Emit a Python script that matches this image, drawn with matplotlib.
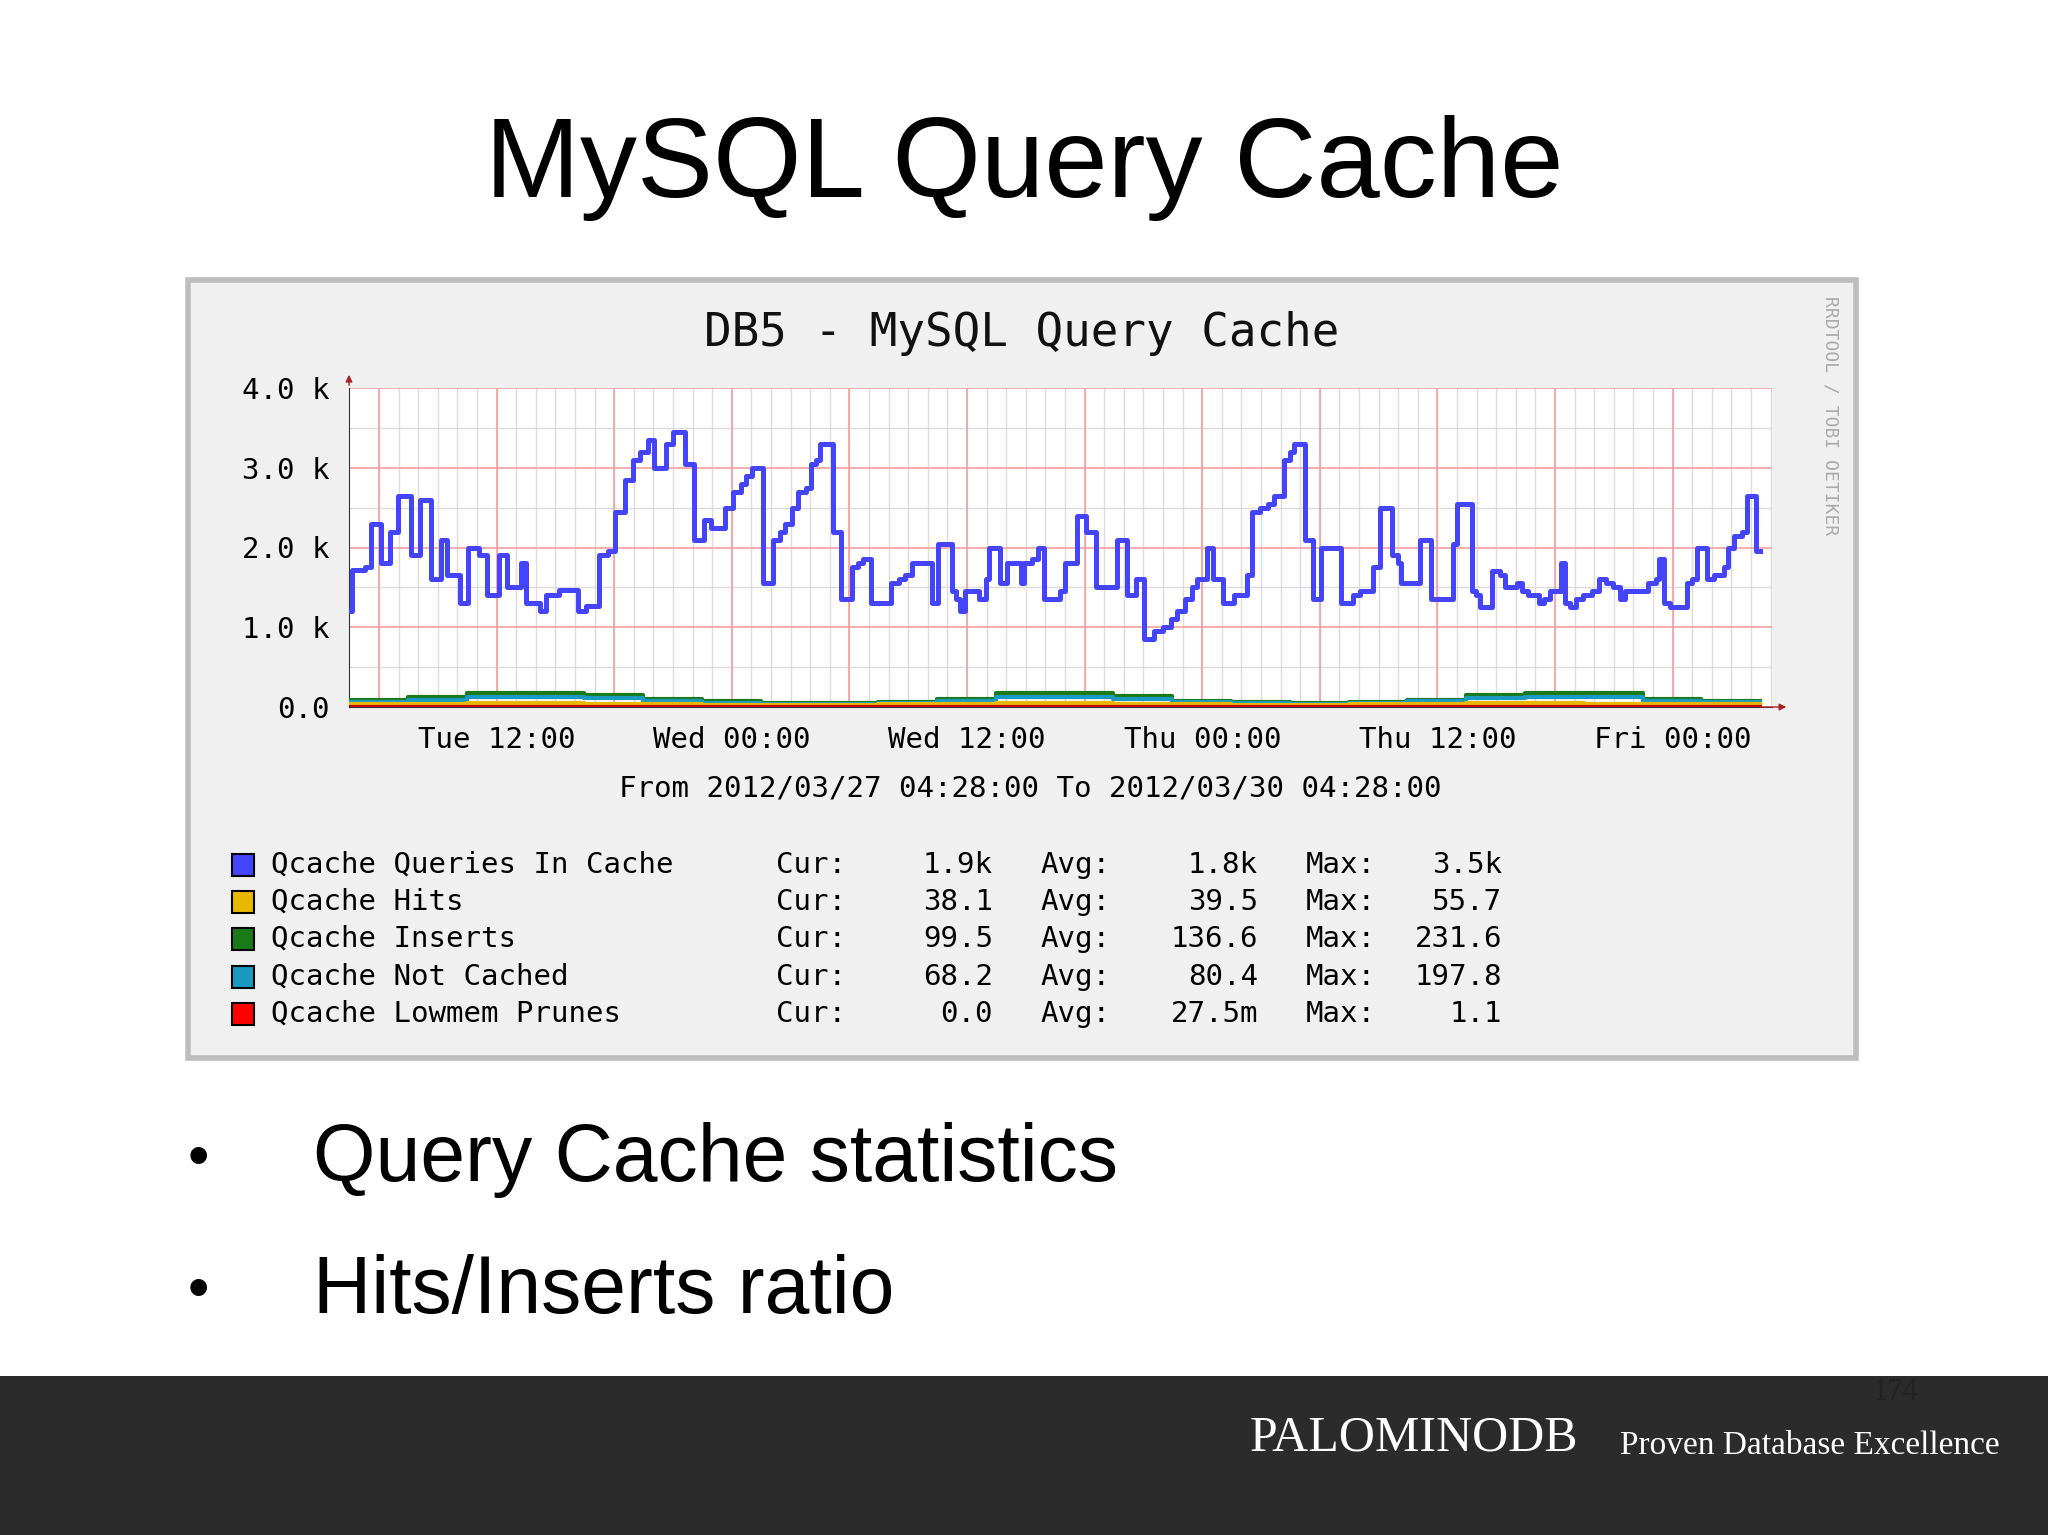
import numpy as np
import matplotlib
matplotlib.use("Agg")
import matplotlib.pyplot as plt
from matplotlib.patches import Rectangle

# ---- data (hours since 2012/03/27 04:28, value in queries) ----
q_hours = [0, 0.16, 0.81, 1.13, 1.61, 2.10, 2.52, 3.16, 3.61, 4.19, 4.68, 5.0, 5.65, 6.06, 6.61, 7.03, 7.65, 8.06, 8.77, 9.03,
           9.74, 10.06, 10.71, 11.68, 12.10, 12.74, 13.23, 13.55, 14.10, 14.48, 14.84, 15.23, 15.55, 16.19, 16.55, 17.16, 17.58,
           18.13, 18.48, 19.19, 19.61, 20.0, 20.26, 20.58, 21.13, 21.61, 22.0, 22.26, 22.58, 22.9, 23.32, 23.55, 23.81, 24.03,
           24.68, 25.10, 25.65, 25.97, 26.23, 26.61, 27.65, 28.06, 28.39, 28.71, 29.74, 30.06, 30.74, 30.97, 31.19, 31.45,
           32.16, 32.48, 32.65, 33.23, 33.55, 34.26, 34.45, 34.84, 35.16, 35.48, 36.29, 36.55, 37.16, 37.58, 38.13, 39.19,
           39.68, 40.16, 40.58, 41.08, 41.51, 41.94, 42.22, 42.65, 42.99, 43.27, 43.79, 44.07, 44.58, 45.15, 45.83, 46.06,
           46.49, 46.91, 47.2, 47.71, 48.0, 48.19, 48.76, 49.19, 49.61, 50.61, 51.24, 51.6, 52.26, 52.6, 53.23, 53.51, 53.68,
           54.65, 55.22, 56.3, 56.52, 57.29, 57.49, 57.72, 58.29, 58.71, 59.0, 59.57, 59.85, 60.13, 60.7, 60.99, 61.27, 61.84,
           62.04, 62.27, 62.61, 62.98, 63.41, 63.75, 64.12, 64.49, 64.83, 65.11, 66.25, 66.68, 66.82, 67.1, 67.39, 68.24,
           68.52, 68.75, 69.29, 69.66, 70.17, 70.37, 70.66, 71.08, 71.31, 71.79, 72.0]
q_vals_k = [1.2, 1.72, 1.75, 2.3, 1.8, 2.2, 2.65, 1.9, 2.6, 1.6, 2.1, 1.65, 1.3, 2.0, 1.9, 1.4, 1.9, 1.5, 1.8, 1.3,
            1.2, 1.4, 1.47, 1.2, 1.27, 1.9, 1.95, 2.45, 2.85, 3.1, 3.2, 3.35, 3.0, 3.3, 3.45, 3.05, 2.1,
            2.35, 2.25, 2.5, 2.7, 2.8, 2.9, 3.0, 1.55, 2.1, 2.2, 2.3, 2.5, 2.7, 2.75, 3.05, 3.1, 3.3,
            2.2, 1.35, 1.75, 1.8, 1.85, 1.3, 1.55, 1.6, 1.65, 1.8, 1.3, 2.05, 1.45, 1.35, 1.2, 1.45,
            1.35, 1.6, 2.0, 1.55, 1.8, 1.55, 1.8, 1.85, 2.0, 1.35, 1.45, 1.8, 2.4, 2.2, 1.5, 2.1,
            1.4, 1.6, 0.85, 0.95, 1.0, 1.1, 1.2, 1.35, 1.5, 1.6, 2.0, 1.6, 1.3, 1.4, 1.65, 2.45,
            2.5, 2.55, 2.65, 3.1, 3.2, 3.3, 2.1, 1.35, 2.0, 1.3, 1.4, 1.45, 1.75, 2.5, 1.9, 1.8, 1.55,
            2.1, 1.35, 2.05, 2.55, 1.45, 1.4, 1.25, 1.7, 1.65, 1.5, 1.55, 1.45, 1.4, 1.3, 1.35, 1.45, 1.8,
            1.3, 1.25, 1.35, 1.4, 1.45, 1.6, 1.55, 1.5, 1.35, 1.45, 1.55, 1.6, 1.85, 1.3, 1.25, 1.55,
            1.6, 2.0, 1.6, 1.65, 1.75, 2.0, 2.15, 2.2, 2.65, 1.95, 1.95]

s_hours = list(range(0, 73, 3))
inserts_k = [0.09, 0.13, 0.18, 0.17, 0.15, 0.10, 0.07, 0.05, 0.05, 0.06, 0.10, 0.17, 0.17, 0.14, 0.08, 0.06, 0.05,
             0.06, 0.09, 0.15, 0.18, 0.17, 0.10, 0.08, 0.08]
notcached_k = [0.06, 0.09, 0.13, 0.13, 0.11, 0.07, 0.05, 0.04, 0.04, 0.05, 0.07, 0.12, 0.13, 0.10, 0.06, 0.05, 0.04,
               0.05, 0.07, 0.11, 0.13, 0.12, 0.07, 0.06, 0.06]
hits_k = [0.035, 0.04, 0.045, 0.045, 0.04, 0.035, 0.03, 0.03, 0.03, 0.035, 0.04, 0.045, 0.045, 0.04, 0.035, 0.03,
          0.03, 0.035, 0.04, 0.045, 0.045, 0.04, 0.035, 0.035, 0.038]
prunes_k = [0.0] * 25

ytick_vals = [0, 1000, 2000, 3000, 4000]
ytick_labels = ["0.0", "1.0 k", "2.0 k", "3.0 k", "4.0 k"]
xtick_hours = [7.533, 19.533, 31.533, 43.533, 55.533, 67.533]
xtick_labels = ["Tue 12:00", "Wed 00:00", "Wed 12:00", "Thu 00:00", "Thu 12:00", "Fri 00:00"]

legend_names = ["Qcache Queries In Cache", "Qcache Hits", "Qcache Inserts", "Qcache Not Cached", "Qcache Lowmem Prunes"]
legend_colors = ["#4444ff", "#e8b800", "#1a7a1a", "#1a9ac0", "#ff0000"]
cur = ["1.9k", "38.1", "99.5", "68.2", "0.0"]
avg = ["1.8k", "39.5", "136.6", "80.4", "27.5m"]
mx = ["3.5k", "55.7", "231.6", "197.8", "1.1"]

W, H = 2048, 1535
fig = plt.figure(figsize=(W / 100, H / 100), dpi=100)
fig.patch.set_facecolor("white")

def fx(x): return x / W
def fy(y): return 1 - y / H

MONO = "DejaVu Sans Mono"
FS = 21

fig.text(fx(1024), fy(168), "MySQL Query Cache", ha="center", va="center", fontsize=82, family="Liberation Sans")

# panel
fig.patches.append(Rectangle((fx(188), fy(1058)), fx(1856 - 188), (1058 - 280) / H, transform=fig.transFigure,
                             facecolor="#f0f0f0", edgecolor="#bdbdbd", lw=4, zorder=0))
fig.text(fx(1022), fy(333), "DB5 - MySQL Query Cache", ha="center", va="center", fontsize=33, family=MONO, color="#111111")
fig.text(fx(1830), fy(296), "RRDTOOL / TOBI OETIKER", ha="center", va="top", rotation=-90, fontsize=13,
         family=MONO, color="#aaaaaa")

ax = fig.add_axes([fx(349), fy(707), fx(1772 - 349), (707 - 388) / H])
ax.set_zorder(5)
ax.set_facecolor("white")
ax.set_xlim(0, 72.6)
ax.set_ylim(0, 4000)
for h in np.arange(1.533, 72.6, 1.0):
    ax.axvline(h, color="#dcdcdc", lw=1, zorder=1)
for v in np.arange(500, 4001, 1000):
    ax.axhline(v, color="#dcdcdc", lw=1, zorder=1)
for h in np.arange(1.533, 72.6, 6.0):
    ax.axvline(h, color="#f2a0a0", lw=1.2, zorder=2)
for v in ytick_vals[1:]:
    ax.axhline(v, color="#f2a0a0", lw=1.2, zorder=2)

ax.step(s_hours, np.array(inserts_k) * 1000, where="post", color="#1a7a1a", lw=3, zorder=3)
ax.step(s_hours, np.array(notcached_k) * 1000, where="post", color="#1a9ac0", lw=3, zorder=3)
ax.step(s_hours, np.array(hits_k) * 1000, where="post", color="#e8b800", lw=3, zorder=3)
ax.step(s_hours, np.array(prunes_k) * 1000, where="post", color="#cc0000", lw=3, zorder=3)
ax.step(q_hours, np.array(q_vals_k) * 1000, where="post", color="#4444ff", lw=3.6, zorder=4)

for s in ["top", "right"]:
    ax.spines[s].set_visible(False)
for s in ["left", "bottom"]:
    ax.spines[s].set_color("#333333")
ax.set_yticks(ytick_vals)
ax.set_yticklabels(ytick_labels, family=MONO, fontsize=FS)
ax.set_xticks(xtick_hours)
ax.set_xticklabels(xtick_labels, family=MONO, fontsize=FS)
ax.tick_params(axis="both", length=0, pad=14)
ax.annotate("", xy=(0, 1.05), xytext=(0, 1.0), xycoords="axes fraction",
            arrowprops=dict(arrowstyle="-|>", color="#aa2222", lw=1), annotation_clip=False)
ax.annotate("", xy=(1.012, 0), xytext=(0.99, 0), xycoords="axes fraction",
            arrowprops=dict(arrowstyle="-|>", color="#aa2222", lw=1), annotation_clip=False)

fig.text(fx(1030), fy(789), "From 2012/03/27 04:28:00 To 2012/03/30 04:28:00", ha="center", va="center",
         fontsize=FS, family=MONO)

rows = [865, 902, 939, 977, 1014]
for i, y in enumerate(rows):
    fig.patches.append(Rectangle((fx(232), fy(y + 11)), fx(22), 22 / H, transform=fig.transFigure,
                                 facecolor=legend_colors[i], edgecolor="black", lw=1.5))
    fig.text(fx(271), fy(y), legend_names[i], va="center", fontsize=FS, family=MONO)
    fig.text(fx(776), fy(y), "Cur:", va="center", fontsize=FS, family=MONO)
    fig.text(fx(993), fy(y), cur[i], va="center", ha="right", fontsize=FS, family=MONO)
    fig.text(fx(1040), fy(y), "Avg:", va="center", fontsize=FS, family=MONO)
    fig.text(fx(1258), fy(y), avg[i], va="center", ha="right", fontsize=FS, family=MONO)
    fig.text(fx(1306), fy(y), "Max:", va="center", fontsize=FS, family=MONO)
    fig.text(fx(1502), fy(y), mx[i], va="center", ha="right", fontsize=FS, family=MONO)

for y, t in [(1160, "Query Cache statistics"), (1292, "Hits/Inserts ratio")]:
    fig.text(fx(188), fy(y), "•", va="center", fontsize=44, family="Liberation Sans")
    fig.text(fx(313), fy(y), t, va="center", fontsize=58, family="Liberation Sans")

# footer band
fig.patches.append(Rectangle((0, 0), 1, (H - 1376) / H, transform=fig.transFigure, facecolor="#2b2b2b",
                             edgecolor="none"))
fig.text(fx(1250), fy(1438), "PALOMINODB", va="center", fontsize=36, family="Liberation Serif", color="white")
fig.text(fx(1620), fy(1446), "Proven Database Excellence", va="center", fontsize=24, family="Liberation Serif",
         color="white")
fig.text(fx(1895), fy(1392), "174", va="center", ha="center", fontsize=22, family="Liberation Serif", color="#222222")

fig.savefig("out.png", dpi=100)
